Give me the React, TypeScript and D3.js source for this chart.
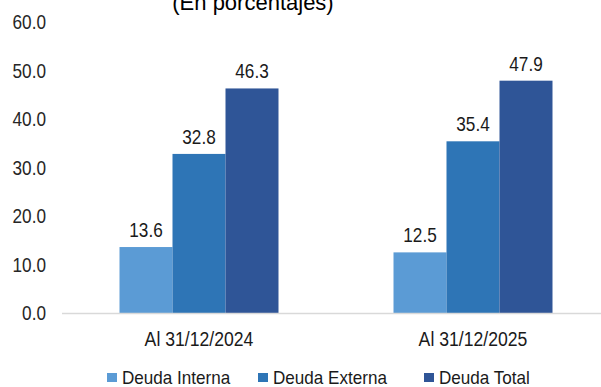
import { useEffect, useRef } from 'react';
import * as d3 from 'd3';

const categories = ['Al 31/12/2024', 'Al 31/12/2025'];
const seriesNames = ['Deuda Interna', 'Deuda Externa', 'Deuda Total'];
const deudaInterna = [13.6, 12.5];
const deudaExterna = [32.8, 35.4];
const deudaTotal = [46.3, 47.9];
const yTicks = [0, 10, 20, 30, 40, 50, 60];
const colors = ['#5b9bd5', '#2e75b6', '#2f5597'];

const App: React.FC = () => {
    const svgRef = useRef<SVGSVGElement>(null);

    useEffect(() => {
        if (!svgRef.current) return;
        const svg = d3.select(svgRef.current);
        svg.selectAll('*').remove();

        const width = 601;
        const height = 387;
        const font = '"Liberation Sans", Arial, sans-serif';
        // the original uses a condensed face; squeeze Liberation Sans horizontally
        const narrow = 0.86;

        const x0 = d3.scaleBand<string>()
            .domain(categories)
            .range([62, 610]);

        // bars sit in the middle of each category band
        const x1 = d3.scaleBand<string>()
            .domain(seriesNames)
            .range([0, x0.bandwidth()])
            .paddingInner(0)
            .paddingOuter(1.085);

        const y = d3.scaleLinear()
            .domain([0, 60])
            .range([313, 22]);

        const series = [deudaInterna, deudaExterna, deudaTotal];

        // title (cut off at the top)
        svg.append('text')
            .attr('x', 253)
            .attr('y', 10)
            .attr('text-anchor', 'middle')
            .style('font-family', font)
            .style('font-size', '22px')
            .style('fill', '#000')
            .text('(En porcentajes)');

        // y tick labels
        svg.append('g')
            .selectAll('text')
            .data(yTicks)
            .join('text')
            .attr('transform', d => `translate(46,${y(d)}) scale(${narrow},1)`)
            .attr('dy', '0.36em')
            .attr('text-anchor', 'end')
            .style('font-family', font)
            .style('font-size', '20px')
            .style('fill', '#262626')
            .text(d => d.toFixed(1));

        // bars
        const groups = svg.append('g')
            .selectAll('g')
            .data(categories)
            .join('g')
            .attr('transform', d => `translate(${x0(d)},0)`);

        groups.selectAll('rect')
            .data((_, i) => seriesNames.map((s, j) => ({ s, v: series[j][i], j })))
            .join('rect')
            .attr('x', d => x1(d.s)!)
            .attr('y', d => y(d.v))
            .attr('width', x1.bandwidth())
            .attr('height', d => y(0) - y(d.v))
            .attr('fill', d => colors[d.j]);

        groups.selectAll('text')
            .data((_, i) => seriesNames.map((s, j) => ({ s, v: series[j][i] })))
            .join('text')
            .attr('transform', d =>
                `translate(${x1(d.s)! + x1.bandwidth() / 2},${y(d.v) - 10}) scale(${narrow},1)`)
            .attr('text-anchor', 'middle')
            .style('font-family', font)
            .style('font-size', '20px')
            .style('fill', '#1a1a1a')
            .text(d => d.v.toFixed(1));

        // x axis line
        svg.append('line')
            .attr('x1', 62)
            .attr('x2', width)
            .attr('y1', y(0) + 0.5)
            .attr('y2', y(0) + 0.5)
            .attr('stroke', '#d9d9d9')
            .attr('stroke-width', 1.5);

        // category labels
        svg.append('g')
            .selectAll('text')
            .data(categories)
            .join('text')
            .attr('transform', d =>
                `translate(${x0(d)! + x0.bandwidth() / 2},346) scale(${narrow},1)`)
            .attr('text-anchor', 'middle')
            .style('font-family', font)
            .style('font-size', '20.5px')
            .style('fill', '#1a1a1a')
            .text(d => d);

        // legend
        const legendX = [107, 258, 424];
        const legend = svg.append('g')
            .selectAll('g')
            .data(seriesNames)
            .join('g')
            .attr('transform', (_, i) => `translate(${legendX[i]},${height - 3})`);

        legend.append('rect')
            .attr('x', 0)
            .attr('y', -11)
            .attr('width', 10)
            .attr('height', 9)
            .attr('fill', (_, i) => colors[i]);

        legend.append('text')
            .attr('transform', 'translate(15,0) scale(0.95,1)')
            .style('font-family', font)
            .style('font-size', '18px')
            .style('fill', '#1a1a1a')
            .text(d => d);
    }, []);

    return (
        <svg ref={svgRef} width={601} height={387}
            style={{ position: 'absolute', left: 0, top: 0, background: '#fff' }} />
    );
};

export default App;
